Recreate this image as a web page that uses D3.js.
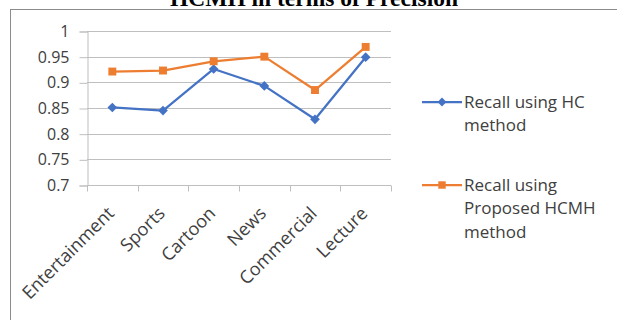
<!DOCTYPE html>
<html>
<head>
<meta charset="utf-8">
<script src="https://cdn.jsdelivr.net/npm/d3@7"></script>
<style>
  body { margin: 0; background: #fff; }
  svg { display: block; }
</style>
</head>
<body>
<div id="chart"></div>
<script>
// Chart data
const categories = ['Entertainment', 'Sports', 'Cartoon', 'News', 'Commercial', 'Lecture'];
const hcValues = [0.851, 0.845, 0.926, 0.893, 0.828, 0.949];
const hcmhValues = [0.921, 0.923, 0.941, 0.950, 0.885, 0.969];
const yTicks = [0.7, 0.75, 0.8, 0.85, 0.9, 0.95, 1];
const legendLabels = [['Recall using HC', 'method'], ['Recall using', 'Proposed HCMH', 'method']];

const width = 617, height = 320;
const font = '"Open Sans", sans-serif';
const blue = '#4472c4', orange = '#ed7d31', grid = '#bfbfbf';

const svg = d3.select('#chart')
    .append('svg')
    .attr('width', width)
    .attr('height', height);

// Outer frame (chart border)
svg.append('rect')
    .attr('x', 10.5).attr('y', 9.5)
    .attr('width', 700).attr('height', 400)
    .attr('fill', 'none')
    .attr('stroke', '#8c8c8c')
    .attr('stroke-width', 1);

// Title, clipped at the top edge like the source
svg.append('text')
    .attr('x', 314).attr('y', 6)
    .attr('text-anchor', 'middle')
    .attr('font-family', '"Liberation Serif", "Times New Roman", serif')
    .attr('font-weight', 'bold')
    .attr('font-size', '23.5px')
    .attr('fill', '#000')
    .text('HCMH in terms of Precision');

// Scales
const x = d3.scaleBand().domain(categories).range([87, 391]);
const y = d3.scaleLinear().domain([0.7, 1]).range([185, 31]);

// Gridlines
svg.append('g')
    .selectAll('line')
    .data(yTicks.slice(1))
    .enter()
    .append('line')
    .attr('x1', x.range()[0]).attr('x2', x.range()[1])
    .attr('y1', d => Math.round(y(d)) + 0.5)
    .attr('y2', d => Math.round(y(d)) + 0.5)
    .attr('stroke', grid)
    .attr('stroke-width', 1);

// Y axis
const yAxis = svg.append('g')
    .attr('transform', `translate(${x.range()[0] + 0.5},0.5)`)
    .call(d3.axisLeft(y).tickValues(yTicks).tickSize(8).tickPadding(10)
        .tickFormat(d => d3.format('')(+d.toFixed(2))));
yAxis.selectAll('line, path').attr('stroke', grid);
yAxis.selectAll('text')
    .attr('font-family', font)
    .attr('font-size', '16px')
    .attr('fill', '#404040');

// X axis with ticks at band edges
const xAxis = svg.append('g')
    .attr('transform', `translate(0,${Math.round(y(0.7)) + 0.5})`);
xAxis.append('line')
    .attr('x1', x.range()[0]).attr('x2', x.range()[1])
    .attr('stroke', grid);
xAxis.selectAll('.tick-mark')
    .data(categories.concat(['end']))
    .enter()
    .append('line')
    .attr('class', 'tick-mark')
    .attr('x1', (d, i) => Math.round(x.range()[0] + i * x.bandwidth()) + 0.5)
    .attr('x2', (d, i) => Math.round(x.range()[0] + i * x.bandwidth()) + 0.5)
    .attr('y1', 0).attr('y2', 6)
    .attr('stroke', grid);
xAxis.selectAll('.cat-label')
    .data(categories)
    .enter()
    .append('text')
    .attr('class', 'cat-label')
    .attr('transform', d => `translate(${x(d) + x.bandwidth() / 2 + 3},${29}) rotate(-45)`)
    .attr('text-anchor', 'end')
    .attr('font-family', font)
    .attr('font-size', '18px')
    .attr('fill', '#404040')
    .text(d => d);

// Series lines and markers
const cx = d => x(d) + x.bandwidth() / 2;
const line = d3.line().x((d, i) => cx(categories[i])).y(d => y(d));

function drawSeries(values, color, shape, size) {
    svg.append('path')
        .datum(values)
        .attr('d', line)
        .attr('fill', 'none')
        .attr('stroke', color)
        .attr('stroke-width', 2.25)
        .attr('stroke-linejoin', 'round');
    svg.append('g')
        .selectAll('path')
        .data(values)
        .enter()
        .append('path')
        .attr('transform', (d, i) => `translate(${cx(categories[i])},${y(d)})`)
        .attr('d', d3.symbol().type(shape).size(size))
        .attr('fill', color);
}

drawSeries(hcValues, blue, d3.symbolDiamond2, 60);
drawSeries(hcmhValues, orange, d3.symbolSquare2, 80);

// Legend
const legendItems = [
    { color: blue, shape: d3.symbolDiamond2, size: 50, y: 102, lines: legendLabels[0] },
    { color: orange, shape: d3.symbolSquare2, size: 70, y: 185, lines: legendLabels[1] }
];
const legend = svg.append('g');
legendItems.forEach(item => {
    legend.append('line')
        .attr('x1', 422).attr('x2', 462)
        .attr('y1', item.y).attr('y2', item.y)
        .attr('stroke', item.color)
        .attr('stroke-width', 2.25);
    legend.append('path')
        .attr('transform', `translate(442,${item.y})`)
        .attr('d', d3.symbol().type(item.shape).size(item.size))
        .attr('fill', item.color);
    legend.append('text')
        .attr('font-family', font)
        .attr('font-size', '17px')
        .attr('fill', '#404040')
        .selectAll('tspan')
        .data(item.lines)
        .enter()
        .append('tspan')
        .attr('x', 464)
        .attr('y', (d, i) => item.y + 5.5 + i * 23.5)
        .text(d => d);
});
</script>
</body>
</html>
